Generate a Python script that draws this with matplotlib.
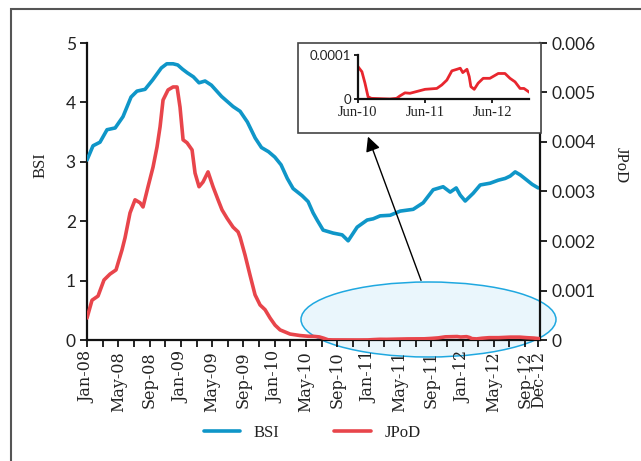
import matplotlib
matplotlib.use("Agg")
import matplotlib.pyplot as plt
from matplotlib.patches import Ellipse, Rectangle, FancyArrowPatch
from matplotlib.ticker import FixedLocator, MultipleLocator

# Month index: 0 = Jan-08
bsi_month = [0, 0.77, 1.66, 2.56, 3.6, 4.6, 5.63, 6.39, 7.42, 8.4, 9.5, 10.2,
             11.0, 11.6, 12.2, 12.8, 13.6, 14.32, 15.09, 15.9, 17.2, 18.67,
             19.57, 20.5, 21.5, 22.3, 23.2, 24.0, 24.8, 25.6, 26.34, 27.49,
             28.26, 28.9, 29.41, 30.18, 31.46, 32.61, 33.38, 34.53, 35.81,
             36.57, 37.47, 38.75, 40.03, 41.69, 42.97, 44.25, 45.52, 46.42,
             47.19, 47.7, 48.34, 49.36, 50.26, 51.53, 52.56, 53.45, 54.09,
             54.73, 55.37, 56.14, 56.9, 57.67]
bsi_value = [3.03, 3.27, 3.33, 3.54, 3.57, 3.76, 4.09, 4.19, 4.22, 4.38, 4.58,
             4.65, 4.65, 4.63, 4.56, 4.50, 4.43, 4.33, 4.36, 4.29, 4.10, 3.93,
             3.85, 3.67, 3.40, 3.24, 3.17, 3.08, 2.95, 2.72, 2.55, 2.43,
             2.33, 2.14, 2.02, 1.85, 1.80, 1.77, 1.67, 1.90, 2.02,
             2.04, 2.09, 2.10, 2.17, 2.20, 2.31, 2.53, 2.58, 2.49,
             2.56, 2.44, 2.34, 2.47, 2.61, 2.64, 2.69, 2.72, 2.76,
             2.83, 2.78, 2.70, 2.62, 2.56]

jpod_month = [0, 0.64, 1.41, 2.17, 2.94, 3.71, 4.48, 4.86, 5.5, 6.14, 6.78, 7.16,
              7.8, 8.44, 8.95, 9.34, 9.72, 10.36, 11.0, 11.51, 11.89, 12.28,
              12.79, 13.43, 13.81, 14.32, 14.83, 15.47, 16.11, 16.75, 17.26,
              17.9, 18.67, 19.31, 19.57, 20.2, 20.84, 21.48, 22.12, 22.76, 23.4,
              24.04, 24.68, 25.96, 27.24, 28.3, 29.0, 29.7, 30.25, 30.8, 31.4,
              33.5, 34.7, 35.9, 36.5, 37.4, 38.3, 39.5, 41.0, 43.1, 44.0, 44.9,
              45.8, 46.7, 47.3, 47.75, 48.5, 48.9, 49.2, 49.8, 50.5, 51.4, 52.6,
              54.1, 55.3, 56.2, 57.1, 58.0, 58.7, 59.7]
jpod_value = [0.000444, 0.000804, 0.000888, 0.001212, 0.001332, 0.001416,
              0.001824, 0.002064, 0.002568, 0.002832, 0.002772, 0.002688,
              0.003096, 0.003492, 0.0039, 0.004308, 0.004848, 0.005052,
              0.005112, 0.005112, 0.004704, 0.004044, 0.003984, 0.00384,
              0.003372, 0.003096, 0.003192, 0.003396, 0.003096, 0.002832,
              0.002628, 0.00246, 0.00228, 0.002184, 0.002076, 0.001716,
              0.001308, 0.000912, 0.000708, 0.000612, 0.000444, 0.0003,
              0.000204, 0.00012, 0.00009, 0.000075,
              0.0000735, 0.000062, 0.000036, 0.000005, 0.0000015, 0.0000005,
              0.0, 0.0000015, 0.000007, 0.000014, 0.000013, 0.000017,
              0.000022, 0.000024, 0.000032, 0.000043, 0.000064, 0.0000675,
              0.00007, 0.00006, 0.0000675, 0.000051, 0.000028, 0.000022,
              0.000036, 0.000047, 0.000047, 0.000058, 0.000058, 0.000047,
              0.000039, 0.000024, 0.000024, 0.000015]

tick_month = [0, 4, 8, 12, 16, 20, 24, 28, 32, 36, 40, 44, 48, 52, 56, 57.7]
tick_label = ["Jan-08", "May-08", "Sep-08", "Jan-09", "May-09", "Sep-09",
              "Jan-10", "May-10", "Sep-10", "Jan-11", "May-11", "Sep-11",
              "Jan-12", "May-12", "Sep-12", "Dec-12"]
inset_tick_month = [29, 41, 53]
inset_tick_label = ["Jun-10", "Jun-11", "Jun-12"]

BLUE = "#0f96c8"
RED = "#e8454b"
SERIF = "Liberation Serif"
SANS = "Lato"

W, H = 641, 461
fig = plt.figure(figsize=(W / 100, H / 100), dpi=100)


def fx(px):
    return px / W


def fy(py):
    return 1 - py / H


ax = fig.add_axes([fx(87), fy(340), fx(540) - fx(87), fy(43) - fy(340)])
ax.patch.set_alpha(0)
ax2 = ax.twinx()
ax2.patch.set_alpha(0)

l1, = ax.plot(bsi_month, bsi_value, color=BLUE, lw=2.6, solid_capstyle="round",
              label="BSI", zorder=3)
l2, = ax2.plot(jpod_month, jpod_value, color=RED, lw=2.6, solid_capstyle="round",
               label="JPoD", zorder=3)

ax.set_xlim(0, 57.9)
ax.set_ylim(0, 5)
ax2.set_ylim(0, 0.006)

for a in (ax, ax2):
    a.spines["top"].set_visible(False)
    for s in a.spines.values():
        s.set_linewidth(1.6)
        s.set_color("#111111")
ax.spines["right"].set_visible(False)
ax2.spines["left"].set_visible(False)
ax2.spines["bottom"].set_visible(False)

ax.set_yticks([0, 1, 2, 3, 4, 5])
ax.set_yticklabels(["0", "1", "2", "3", "4", "5"], family=SANS, fontsize=12.5,
                   color="#222222")
ax2.set_yticks([0, 0.001, 0.002, 0.003, 0.004, 0.005, 0.006])
ax2.set_yticklabels(["0", "0.001", "0.002", "0.003", "0.004", "0.005", "0.006"],
                    family=SANS, fontsize=12.5, color="#222222")

ax.xaxis.set_major_locator(FixedLocator(tick_month))
ax.set_xticklabels(tick_label, rotation=90, family="DejaVu Serif", fontsize=11.5,
                   color="#222222")
ax.xaxis.set_minor_locator(MultipleLocator(2))
ax.tick_params(axis="x", which="both", direction="out", length=5, width=1.2,
               pad=3)
ax.tick_params(axis="y", direction="out", length=5, width=1.2, pad=3)
ax2.tick_params(axis="y", direction="out", length=5, width=1.2, pad=3)

ax.set_ylabel("BSI", family=SERIF, fontsize=12, color="#222222")
ax.yaxis.set_label_coords(-0.086, 0.59)
ax2.set_ylabel("JPoD", family=SERIF, fontsize=12, color="#222222", rotation=270,
               va="center")
ax2.yaxis.set_label_coords(1.177, 0.59)

# highlight ellipse around the low-JPoD period
ell = Ellipse((fx(428.5), fy(319.5)), fx(255), 75 / H, transform=fig.transFigure,
              facecolor="#eaf6fc", edgecolor="#1fa8e0", lw=1.1, zorder=-1)
fig.add_artist(ell)

# inset frame
box = Rectangle((fx(298), fy(133)), fx(243), 90 / H, transform=fig.transFigure,
                facecolor="white", edgecolor="#444444", lw=1.2, zorder=1)
fig.add_artist(box)

arrow = FancyArrowPatch((fx(422), fy(283)), (fx(367), fy(134)),
                        transform=fig.transFigure, arrowstyle="-|>",
                        mutation_scale=22, lw=1.0, color="black", zorder=4)
fig.add_artist(arrow)

# inset: JPoD zoomed on mid-2010 onward
axi = fig.add_axes([fx(358), fy(99), fx(529) - fx(358), fy(55) - fy(99)],
                   zorder=2)
axi.patch.set_alpha(0)
axi.plot(jpod_month, jpod_value, color="#e8262e", lw=2.0)
axi.set_xlim(29, 59.6)
axi.set_ylim(0, 0.0001)
for side in ("top", "right"):
    axi.spines[side].set_visible(False)
for s in ("left", "bottom"):
    axi.spines[s].set_linewidth(1.6)
    axi.spines[s].set_color("#111111")
axi.set_yticks([0, 0.0001])
axi.set_yticklabels(["0", "0.0001"], family=SANS, fontsize=9.5, color="#222222")
axi.set_xticks(inset_tick_month)
axi.set_xticklabels(inset_tick_label, family=SERIF, fontsize=10.5,
                    color="#222222")
axi.tick_params(direction="out", length=3, width=1.2, pad=2)

# outer frame
frame = Rectangle((fx(11), -0.1), 1.2, fy(9) + 0.1, transform=fig.transFigure,
                  facecolor="none", edgecolor="#555555", lw=1.5, zorder=5,
                  clip_on=False)
fig.add_artist(frame)

leg = fig.legend(handles=[l1, l2], loc="center", bbox_to_anchor=(fx(312), fy(433)),
                 ncol=2, frameon=False, handlelength=2.2, handletextpad=0.8,
                 columnspacing=3.3, prop={"family": SERIF, "size": 12})
for t in leg.get_texts():
    t.set_color("#222222")

fig.savefig("out.png", dpi=100)
